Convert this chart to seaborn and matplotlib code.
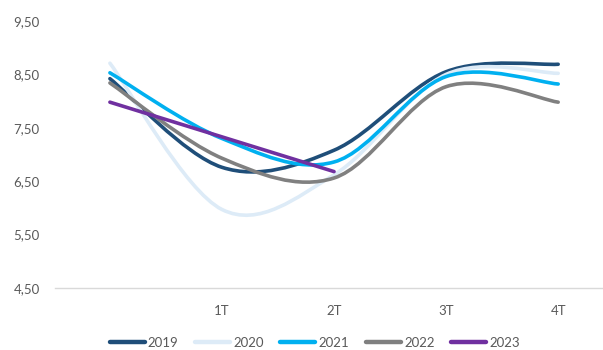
import numpy as np
import pandas as pd
import matplotlib
matplotlib.use("Agg")
import matplotlib.pyplot as plt
from matplotlib.path import Path
from matplotlib.patches import PathPatch
from matplotlib.lines import Line2D
import seaborn as sns

quarters = ["", "1T", "2T", "3T", "4T"]
years = ["2019", "2020", "2021", "2022", "2023"]
v2019 = [8.42, 6.76, 7.08, 8.55, 8.69]
v2020 = [8.71, 5.97, 6.62, 8.50, 8.52]
v2021 = [8.53, 7.30, 6.86, 8.46, 8.32]
v2022 = [8.34, 6.93, 6.56, 8.27, 7.98]
v2023 = [7.98, 7.33, 6.68]
colors = ["#1F4E79", "#DDEBF7", "#00B0F0", "#808080", "#7030A0"]
y_ticks = [4.5, 5.5, 6.5, 7.5, 8.5, 9.5]

series = [v2019, v2020, v2021, v2022, v2023]
df = pd.DataFrame(
    [(yr, i, v) for yr, vals in zip(years, series) for i, v in enumerate(vals)],
    columns=["year", "q", "value"],
)

sns.set_theme(style="white")
plt.rcParams["font.family"] = ["Lato", "DejaVu Sans"]

fig = plt.figure(figsize=(6.03, 3.5), dpi=100)
ax = fig.add_axes([55 / 603, 62 / 350, 548 / 603, 267 / 350])


def smooth_path(xs, ys):
    """Bezier path through the points, with Excel-style smoothing."""
    pts = np.column_stack([xs, ys]).astype(float)
    n = len(pts)
    verts = [pts[0]]
    codes = [Path.MOVETO]
    for i in range(n - 1):
        p_prev = pts[i - 1] if i > 0 else pts[i]
        p_next2 = pts[i + 2] if i + 2 < n else pts[i + 1]
        c1 = pts[i] + (pts[i + 1] - p_prev) / 6.0
        c2 = pts[i + 1] - (p_next2 - pts[i]) / 6.0
        verts += [c1, c2, pts[i + 1]]
        codes += [Path.CURVE4] * 3
    return Path(verts, codes)


handles = []
for yr, col in zip(years, colors):
    d = df[df["year"] == yr]
    patch = PathPatch(smooth_path(d["q"].values, d["value"].values),
                      facecolor="none", edgecolor=col, lw=2.6,
                      capstyle="round", joinstyle="round")
    ax.add_patch(patch)
    handles.append(Line2D([0], [0], color=col, lw=3.2, label=yr))

ax.set_xlim(-0.49, 4.4)
ax.set_ylim(4.5, 9.5)
ax.set_yticks(y_ticks)
ax.set_yticklabels([f"{t:.2f}".replace(".", ",") for t in y_ticks])
ax.set_xticks(range(len(quarters)))
ax.set_xticklabels(quarters)
ax.tick_params(axis="both", length=0, labelsize=9.5, colors="#595959")
ax.tick_params(axis="y", pad=11)
ax.tick_params(axis="x", pad=12)
for s in ["top", "right", "left"]:
    ax.spines[s].set_visible(False)
ax.spines["bottom"].set_color("#D9D9D9")
ax.spines["bottom"].set_linewidth(1.0)
ax.set_xlabel("")
ax.set_ylabel("")

fig.legend(handles=handles, loc="center", bbox_to_anchor=(0.522, 0.02),
           ncol=5, frameon=False, fontsize=9.5, handlelength=2.65,
           handletextpad=0.25, columnspacing=1.25, labelcolor="#595959")

fig.savefig("out.png", dpi=100)
